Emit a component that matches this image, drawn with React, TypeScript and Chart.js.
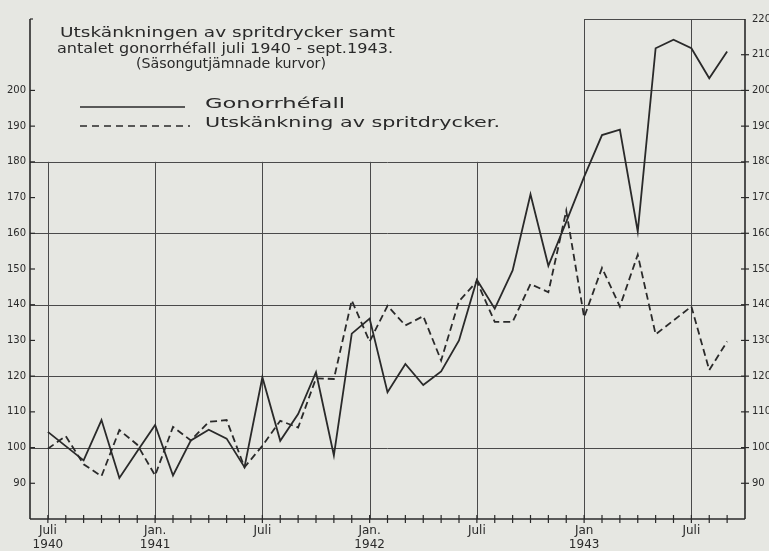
import React, { useEffect, useRef } from "react";
import { Chart, registerables } from "chart.js";

Chart.register(...registerables);

// Months from June 1940 (axis start) to October 1943 (axis end)
const months = [
  "1940-06", "1940-07", "1940-08", "1940-09", "1940-10", "1940-11", "1940-12",
  "1941-01", "1941-02", "1941-03", "1941-04", "1941-05", "1941-06",
  "1941-07", "1941-08", "1941-09", "1941-10", "1941-11", "1941-12",
  "1942-01", "1942-02", "1942-03", "1942-04", "1942-05", "1942-06",
  "1942-07", "1942-08", "1942-09", "1942-10", "1942-11", "1942-12",
  "1943-01", "1943-02", "1943-03", "1943-04", "1943-05", "1943-06",
  "1943-07", "1943-08", "1943-09", "1943-10",
];

// Gonorrhéfall (solid)
const gonorrhea = [
  null,
  104.4, 100.4, 96.4, 107.7, 91.5, 99.0,
  106.3, 92.2, 102.0, 105.0, 102.5, 94.5,
  119.7, 101.9, 109.4, 121.1, 97.8, 131.9,
  136.1, 115.5, 123.4, 117.5, 121.3, 130.0,
  147.0, 138.9, 149.6, 170.9, 150.9, 163.2,
  175.8, 187.5, 189.0, 160.5, 211.8, 214.2,
  211.8, 203.4, 210.9,
  null,
];

// Utskänkning av spritdrycker (dashed)
const spirits = [
  null,
  99.7, 103.2, 95.3, 92.0, 104.9, 100.8,
  92.2, 105.8, 102.0, 107.2, 107.7, 94.5,
  100.5, 107.5, 105.6, 119.4, 119.2, 141.2,
  129.7, 139.7, 134.2, 136.8, 124.4, 141.0,
  146.5, 135.2, 135.2, 145.8, 143.5, 166.3,
  136.5, 150.3, 139.5, 154.0, 131.7, 135.6,
  139.5, 121.7, 129.7,
  null,
];

const xTickLabels: Record<string, string[]> = {
  "1940-07": ["Juli", "1940"],
  "1941-01": ["Jan.", "1941"],
  "1941-07": ["Juli"],
  "1942-01": ["Jan.", "1942"],
  "1942-07": ["Juli"],
  "1943-01": ["Jan", "1943"],
  "1943-07": ["Juli"],
};

const tallVerticals = ["1943-01", "1943-07"];
const fullGridValues = [100, 120, 140, 160, 180];
const upperGridValues = [200, 220];

const titleLines = [
  "Utskänkningen av spritdrycker samt",
  "antalet gonorrhéfall juli 1940 - sept.1943.",
  "(Säsongutjämnade kurvor)",
];
const legendLabels = ["Gonorrhéfall", "Utskänkning av spritdrycker."];

const PAPER = "#e6e7e2";
const INK = "#2a2a2a";
const GRID = "#4a4a4a";
const FONT = '"DejaVu Sans", sans-serif';

function fitText(
  ctx: CanvasRenderingContext2D,
  text: string,
  x: number,
  y: number,
  width: number,
  size: number
) {
  ctx.save();
  ctx.font = `${size}px ${FONT}`;
  const m = ctx.measureText(text).width;
  ctx.translate(x, y);
  ctx.scale(width / m, 1);
  ctx.textBaseline = "middle";
  ctx.textAlign = "left";
  ctx.fillStyle = INK;
  ctx.fillText(text, 0, 0);
  ctx.restore();
}

const paperPlugin = {
  id: "paper",
  beforeDraw(chart: any) {
    const ctx = chart.ctx as CanvasRenderingContext2D;
    ctx.save();
    ctx.fillStyle = PAPER;
    ctx.fillRect(0, 0, chart.width, chart.height);
    ctx.restore();
  },
  beforeDatasetsDraw(chart: any) {
    const ctx = chart.ctx as CanvasRenderingContext2D;
    const xs = chart.scales.x;
    const ys = chart.scales.y;
    const { left, right, bottom } = chart.chartArea;
    ctx.save();
    ctx.strokeStyle = GRID;
    ctx.lineWidth = 1;

    const line = (x1: number, y1: number, x2: number, y2: number) => {
      ctx.beginPath();
      ctx.moveTo(x1, y1);
      ctx.lineTo(x2, y2);
      ctx.stroke();
    };

    // horizontal grid
    fullGridValues.forEach((v) => {
      const y = Math.round(ys.getPixelForValue(v)) + 0.5;
      line(left, y, right, y);
    });
    const janX = xs.getPixelForValue(months.indexOf("1943-01"));
    upperGridValues.forEach((v) => {
      const y = Math.round(ys.getPixelForValue(v)) + 0.5;
      line(janX, y, right, y);
    });

    // vertical lines at labelled months
    Object.keys(xTickLabels).forEach((m) => {
      const x = Math.round(xs.getPixelForValue(months.indexOf(m))) + 0.5;
      const topV = tallVerticals.includes(m) ? 220 : 180;
      line(x, bottom, x, ys.getPixelForValue(topV));
    });

    ctx.strokeStyle = INK;
    ctx.lineWidth = 1.6;
    // axes
    line(left, bottom, right, bottom);
    line(left, bottom, left, ys.getPixelForValue(220));
    line(right, bottom, right, ys.getPixelForValue(220));

    ctx.lineWidth = 1.2;
    // bottom monthly ticks
    for (let i = 1; i < months.length - 1; i++) {
      const x = xs.getPixelForValue(i);
      line(x, bottom - 4, x, bottom + 4);
    }
    // left ticks
    for (let v = 90; v <= 200; v += 10) {
      const y = ys.getPixelForValue(v);
      line(left, y, left + 5, y);
    }
    const yTop = ys.getPixelForValue(220);
    line(left, yTop, left + 3, yTop);
    // right ticks
    for (let v = 90; v <= 210; v += 10) {
      const y = ys.getPixelForValue(v);
      line(right - 4, y, right + 4, y);
    }
    ctx.restore();
  },
  afterDraw(chart: any) {
    const ctx = chart.ctx as CanvasRenderingContext2D;
    // title
    fitText(ctx, titleLines[0], 60, 33, 335, 14);
    fitText(ctx, titleLines[1], 57, 49, 336, 14);
    fitText(ctx, titleLines[2], 136, 64, 190, 14);
    // legend
    ctx.save();
    ctx.strokeStyle = INK;
    ctx.lineWidth = 1.7;
    ctx.beginPath();
    ctx.moveTo(80, 107);
    ctx.lineTo(185, 107);
    ctx.stroke();
    ctx.setLineDash([7, 5]);
    ctx.beginPath();
    ctx.moveTo(80, 126);
    ctx.lineTo(190, 126);
    ctx.stroke();
    ctx.restore();
    fitText(ctx, legendLabels[0], 205, 104, 140, 14);
    fitText(ctx, legendLabels[1], 205, 123, 295, 14);
  },
};

export default function App() {
  const canvasRef = useRef<HTMLCanvasElement | null>(null);

  useEffect(() => {
    document.body.style.margin = "0";
    document.body.style.background = PAPER;
    const canvas = canvasRef.current;
    if (!canvas) return;
    const chart = new Chart(canvas, {
      type: "line",
      data: {
        labels: months,
        datasets: [
          {
            label: legendLabels[0],
            data: gonorrhea,
            borderColor: INK,
            borderWidth: 1.8,
            pointRadius: 0,
            tension: 0,
            fill: false,
            yAxisID: "y",
          },
          {
            label: legendLabels[1],
            data: spirits,
            borderColor: INK,
            borderWidth: 1.8,
            borderDash: [7, 4],
            pointRadius: 0,
            tension: 0,
            fill: false,
            yAxisID: "y",
          },
        ],
      },
      options: {
        animation: false,
        responsive: false,
        devicePixelRatio: 1,
        layout: { padding: { top: 19, left: 0, right: 0, bottom: 0 } },
        plugins: {
          legend: { display: false },
          title: { display: false },
          tooltip: { enabled: false },
        },
        scales: {
          x: {
            type: "category",
            offset: false,
            grid: { display: false, drawTicks: false },
            border: { display: false },
            ticks: {
              autoSkip: false,
              maxRotation: 0,
              padding: 5,
              color: INK,
              font: { family: FONT, size: 12, lineHeight: 1.15 },
              callback: (_v: any, i: number) => xTickLabels[months[i]] || "",
            },
            afterFit: (s: any) => {
              s.height = 32;
            },
          },
          y: {
            position: "left",
            min: 80,
            max: 220,
            grid: { display: false, drawTicks: false },
            border: { display: false },
            ticks: {
              stepSize: 10,
              padding: 4,
              color: INK,
              font: { family: FONT, size: 10 },
              callback: (v: any) => (v >= 90 && v <= 200 ? String(v) : ""),
            },
            afterFit: (s: any) => {
              s.width = 30;
            },
          },
          y2: {
            position: "right",
            min: 80,
            max: 220,
            grid: { display: false, drawTicks: false },
            border: { display: false },
            ticks: {
              stepSize: 10,
              padding: 7,
              color: INK,
              font: { family: FONT, size: 10 },
              callback: (v: any) => (v >= 90 ? String(v) : ""),
            },
            afterFit: (s: any) => {
              s.width = 24;
            },
          },
        },
      },
      plugins: [paperPlugin],
    });
    return () => chart.destroy();
  }, []);

  return (
    <div style={{ width: 769, height: 551, background: PAPER }}>
      <canvas ref={canvasRef} width={769} height={551} />
    </div>
  );
}
